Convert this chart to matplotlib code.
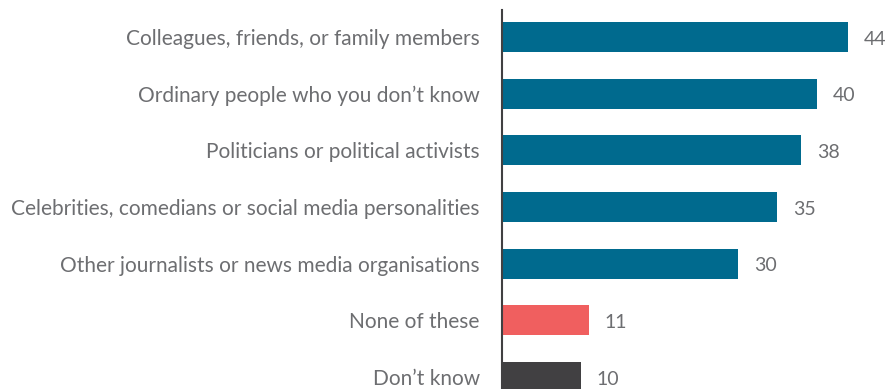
import matplotlib
matplotlib.use("Agg")
import matplotlib.pyplot as plt

categories = [
    "Colleagues, friends, or family members",
    "Ordinary people who you don\u2019t know",
    "Politicians or political activists",
    "Celebrities, comedians or social media personalities",
    "Other journalists or news media organisations",
    "None of these",
    "Don\u2019t know",
]
values = [44, 40, 38, 35, 30, 11, 10]
colors = ["#006a8e"] * 5 + ["#f05f5f", "#414042"]

plt.rcParams['font.family'] = ['Lato', 'DejaVu Sans']
text_color = "#6d6e71"

fig = plt.figure(figsize=(8.89, 3.89), dpi=100)
ax = fig.add_axes([502 / 889, 0, 1 - 502 / 889, 1 - 10 / 389])

y = list(range(len(categories)))
ax.barh(y, values, height=0.53, color=colors)
for yi, v in zip(y, values):
    ax.text(v + 2.0, yi + 0.04, str(v), va="center", ha="left", fontsize=14, color=text_color)

ax.set_xlim(0, 49.2)
ax.set_ylim(6.21, -0.476)
ax.set_yticks(y)
ax.set_yticklabels(categories, fontsize=15, color=text_color)
ax.tick_params(axis="y", length=0, pad=16)
ax.set_xticks([])
for s in ["top", "right", "bottom"]:
    ax.spines[s].set_visible(False)
ax.spines["left"].set_color("#414042")
ax.spines["left"].set_linewidth(1.5)

fig.savefig("out.png", dpi=100)
